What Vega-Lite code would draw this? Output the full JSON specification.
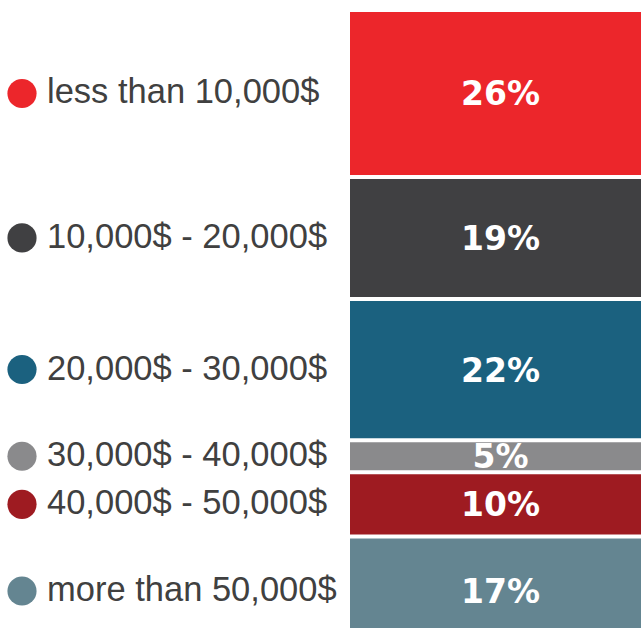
{
  "$schema": "https://vega.github.io/schema/vega-lite/v6.json",
  "padding": 0,
  "spacing": 0,
  "background": "white",
  "config": {"view": {"stroke": null}, "concat": {"spacing": 0}},
  "data": {
    "values": [
      {"order": 1, "label": "less than 10,000$", "pct": 26, "text": "26%"},
      {"order": 2, "label": "10,000$ - 20,000$", "pct": 19, "text": "19%"},
      {"order": 3, "label": "20,000$ - 30,000$", "pct": 22, "text": "22%"},
      {"order": 4, "label": "30,000$ - 40,000$", "pct": 5, "text": "5%"},
      {"order": 5, "label": "40,000$ - 50,000$", "pct": 10, "text": "10%"},
      {"order": 6, "label": "more than 50,000$", "pct": 17, "text": "17%"}
    ]
  },
  "transform": [
    {"stack": "pct", "groupby": [], "sort": [{"field": "order", "order": "ascending"}], "as": ["start", "end"]},
    {"calculate": "(datum.start + datum.end) / 2", "as": "mid"}
  ],
  "hconcat": [
    {
      "width": 348,
      "height": 628,
      "layer": [
        {
          "mark": {"type": "point", "filled": true, "shape": "circle", "size": 850, "x": 22, "opacity": 1},
          "encoding": {
            "y": {"field": "mid", "type": "quantitative", "scale": {"domain": [-1.56, 96.26], "reverse": true, "nice": false, "zero": false}, "axis": null},
            "color": {"field": "label", "type": "nominal", "legend": null,
              "scale": {"domain": ["less than 10,000$", "10,000$ - 20,000$", "20,000$ - 30,000$", "30,000$ - 40,000$", "40,000$ - 50,000$", "more than 50,000$"],
                        "range": ["#EC262B", "#404042", "#1B617F", "#8A8A8C", "#9E1B21", "#648591"]}}
          }
        },
        {
          "mark": {"type": "text", "x": 47, "align": "left", "baseline": "middle", "font": "Liberation Sans", "fontSize": 34.5, "color": "#404040"},
          "encoding": {
            "y": {"field": "mid", "type": "quantitative", "scale": {"domain": [-1.56, 96.26], "reverse": true, "nice": false, "zero": false}, "axis": null},
            "text": {"field": "label"}
          }
        }
      ]
    },
    {
      "width": 291,
      "height": 628,
      "layer": [
        {
          "mark": {"type": "rect", "clip": true},
          "encoding": {
            "y": {"field": "start", "type": "quantitative", "scale": {"domain": [-1.56, 96.26], "reverse": true, "nice": false, "zero": false}, "axis": null},
            "y2": {"field": "end"},
            "color": {"field": "label", "type": "nominal", "legend": null,
              "scale": {"domain": ["less than 10,000$", "10,000$ - 20,000$", "20,000$ - 30,000$", "30,000$ - 40,000$", "40,000$ - 50,000$", "more than 50,000$"],
                        "range": ["#EC262B", "#404042", "#1B617F", "#8A8A8C", "#9E1B21", "#648591"]}}
          }
        },
        {
          "mark": {"type": "rule", "color": "white", "strokeWidth": 4},
          "encoding": {
            "y": {"field": "start", "type": "quantitative", "scale": {"domain": [-1.56, 96.26], "reverse": true, "nice": false, "zero": false}, "axis": null}
          }
        },
        {
          "mark": {"type": "text", "align": "center", "baseline": "middle", "font": "DejaVu Sans", "fontWeight": "bold", "fontSize": 33, "color": "white", "dx": 5, "dy": 2},
          "encoding": {
            "y": {"field": "mid", "type": "quantitative", "scale": {"domain": [-1.56, 96.26], "reverse": true, "nice": false, "zero": false}, "axis": null},
            "text": {"field": "text"}
          }
        }
      ]
    }
  ]
}
